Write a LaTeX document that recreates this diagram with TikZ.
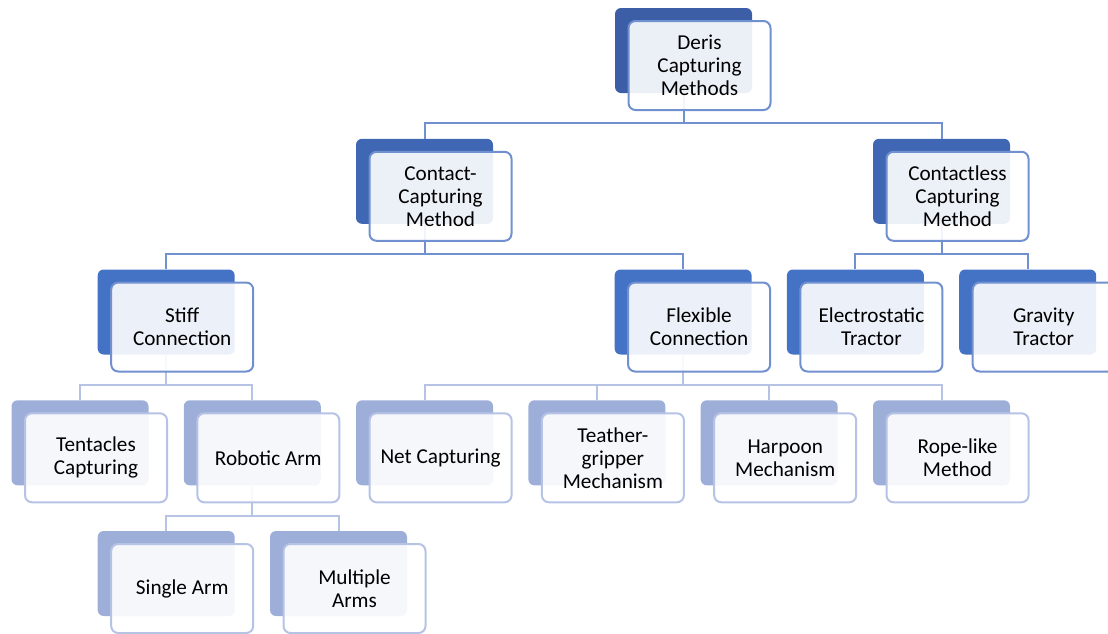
\documentclass[tikz,border=0pt]{standalone}
\usepackage{fontspec}
\setmainfont{Carlito}
\usepackage{tikz}
\definecolor{backA}{HTML}{3B5EA6}
\definecolor{backB}{HTML}{3F67B3}
\definecolor{backC}{HTML}{4472C4}
\definecolor{backD}{HTML}{9DAED9}
\definecolor{edgeA}{HTML}{7190D0}
\definecolor{edgeD}{HTML}{B6C3E5}

\begin{document}
\begin{tikzpicture}[x=1pt,y=-1pt]

  %Styles for picture
  \tikzset
  {
  back/.style={rectangle, rounded corners=6pt, inner sep=0pt, minimum width=137pt, minimum height=85pt},
  front/.style={rectangle, rounded corners=7pt, draw, line width=2pt, fill=white, fill opacity=0.9, text opacity=1, inner sep=0pt, minimum width=142pt, minimum height=89pt, align=center, xshift=16pt, yshift=-15pt, font=\fontsize{21.2}{23}\selectfont},
  backroot/.style={back, fill=backA},
  backmid/.style={back, fill=backB},
  backlow/.style={back, fill=backC},
  backleaf/.style={back, fill=backD},
  frontdark/.style={front, draw=edgeA},
  frontleaf/.style={front, draw=edgeD},
  darklink/.style={draw=edgeA, line width=2pt},
  leaflink/.style={draw=edgeD, line width=2pt},
  }

  \useasboundingbox (0,0) rectangle (1108,633);

  %Back plates
  \node[backroot] (rootb) at (683.5,50.5) {};
  \node[backmid] (contactb) at (424.5,181.3) {};
  \node[backmid] (contactlessb) at (941.5,181.3) {};
  \node[backlow] (stiffb) at (166.2,312) {};
  \node[backlow] (flexibleb) at (683.1,312) {};
  \node[backlow] (electrob) at (855.4,312) {};
  \node[backlow] (gravityb) at (1027.7,312) {};
  \node[backleaf] (tentaclesb) at (80,442.8) {};
  \node[backleaf] (roboticb) at (252.3,442.8) {};
  \node[backleaf] (netb) at (424.6,442.8) {};
  \node[backleaf] (teatherb) at (596.9,442.8) {};
  \node[backleaf] (harpoonb) at (769.2,442.8) {};
  \node[backleaf] (ropeb) at (941.5,442.8) {};
  \node[backleaf] (singleb) at (166.2,573.5) {};
  \node[backleaf] (multipleb) at (338.5,573.5) {};

  %Edges
  \draw[darklink] (rootb.south) -- ++(0,29.5) -| (contactb.north);
  \draw[darklink] (rootb.south) -- ++(0,29.5) -| (contactlessb.north);
  \draw[darklink] (contactb.south) -- ++(0,29.5) -| (stiffb.north);
  \draw[darklink] (contactb.south) -- ++(0,29.5) -| (flexibleb.north);
  \draw[darklink] (contactlessb.south) -- ++(0,29.5) -| (electrob.north);
  \draw[darklink] (contactlessb.south) -- ++(0,29.5) -| (gravityb.north);
  \draw[leaflink] (stiffb.south) -- ++(0,30) -| (tentaclesb.north);
  \draw[leaflink] (stiffb.south) -- ++(0,30) -| (roboticb.north);
  \draw[leaflink] (flexibleb.south) -- ++(0,30) -| (netb.north);
  \draw[leaflink] (flexibleb.south) -- ++(0,30) -| (teatherb.north);
  \draw[leaflink] (flexibleb.south) -- ++(0,30) -| (harpoonb.north);
  \draw[leaflink] (flexibleb.south) -- ++(0,30) -| (ropeb.north);
  \draw[leaflink] (roboticb.south) -- ++(0,30) -| (singleb.north);
  \draw[leaflink] (roboticb.south) -- ++(0,30) -| (multipleb.north);

  %Front cards
  \node[frontdark] (root) at (rootb) {Deris\\Capturing\\Methods};
  \node[frontdark] (contact) at (contactb) {Contact-\\Capturing\\Method};
  \node[frontdark] (contactless) at (contactlessb) {Contactless\\Capturing\\Method};
  \node[frontdark] (stiff) at (stiffb) {Stiff\\Connection};
  \node[frontdark] (flexible) at (flexibleb) {Flexible\\Connection};
  \node[frontdark] (electro) at (electrob) {Electrostatic\\Tractor};
  \node[frontdark] (gravity) at (gravityb) {Gravity\\Tractor};
  \node[frontleaf] (tentacles) at (tentaclesb) {Tentacles\\Capturing};
  \node[frontleaf] (robotic) at (roboticb) {Robotic Arm};
  \node[frontleaf] (net) at (netb) {Net Capturing};
  \node[frontleaf] (teather) at (teatherb) {Teather-\\gripper\\Mechanism};
  \node[frontleaf] (harpoon) at (harpoonb) {Harpoon\\Mechanism};
  \node[frontleaf] (rope) at (ropeb) {Rope-like\\Method};
  \node[frontleaf] (single) at (singleb) {Single Arm};
  \node[frontleaf] (multiple) at (multipleb) {Multiple\\Arms};
\end{tikzpicture}
\end{document}
